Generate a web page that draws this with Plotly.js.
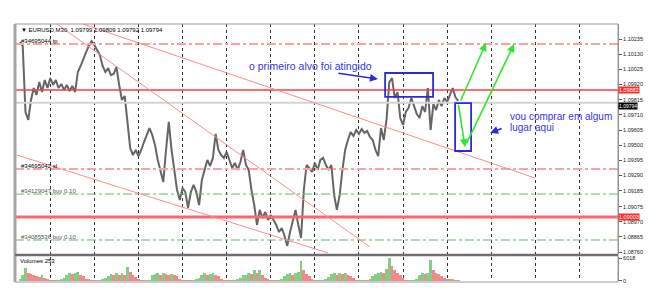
<!DOCTYPE html>
<html><head><meta charset="utf-8">
<script src="https://cdn.plot.ly/plotly-3.0.1.min.js"></script>
<style>html,body{margin:0;padding:0;background:#fff;}#chart{width:669px;height:299px;}</style>
</head><body><div id="chart"></div>
<script>
// ---- data ----
const symbol = 'EURUSD,M30';
const headerPrices = ['1.09799', '1.09809', '1.09792', '1.09794'];
const firstBar = 5;
const closes = [1.10214, 1.10187, 1.09730, 1.09675, 1.09813, 1.09896, 1.09848, 1.09937, 1.09868, 1.09951,
  1.09896, 1.09965, 1.09917, 1.09951, 1.09896, 1.09924, 1.09882, 1.09917, 1.09875, 1.09910,
  1.09868, 1.10007, 1.10048, 1.10104, 1.10145, 1.10187, 1.10221, 1.10193, 1.10159, 1.10124,
  1.10048, 1.10007, 1.10034, 1.09986, 1.09993, 1.10041, 1.09917, 1.09813, 1.09841, 1.09640,
  1.09481, 1.09432, 1.09467, 1.09425, 1.09467, 1.09522, 1.09571, 1.09619, 1.09571, 1.09502,
  1.09398, 1.09329, 1.09245, 1.09467, 1.09661, 1.09467, 1.09342, 1.09190, 1.09121, 1.09204,
  1.09176, 1.09066, 1.09176, 1.09225, 1.09176, 1.09086, 1.09259, 1.09329, 1.09398, 1.09356,
  1.09412, 1.09578, 1.09467, 1.09432, 1.09412, 1.09453, 1.09398, 1.09342, 1.09377, 1.09329,
  1.09384, 1.09467, 1.09363, 1.09329, 1.09190, 1.09086, 1.08948, 1.09052, 1.08996, 1.09038,
  1.08982, 1.09017, 1.08982, 1.08948, 1.08899, 1.08927, 1.08872, 1.08803, 1.08899, 1.08969,
  1.09052, 1.08948, 1.08858, 1.09190, 1.09363, 1.09342, 1.09315, 1.09377, 1.09329, 1.09398,
  1.09412, 1.09363, 1.09329, 1.09363, 1.09155, 1.09052, 1.09155, 1.09329, 1.09467, 1.09536,
  1.09591, 1.09564, 1.09605, 1.09578, 1.09612, 1.09585, 1.09598, 1.09557, 1.09536, 1.09467,
  1.09425, 1.09619, 1.09536, 1.09675, 1.09937, 1.09965, 1.09827, 1.09868, 1.09688, 1.09640,
  1.09730, 1.09758, 1.09827, 1.09771, 1.09716, 1.09688, 1.09771, 1.09730, 1.09896, 1.09605,
  1.09785, 1.09744, 1.09813, 1.09771, 1.09827, 1.09799, 1.09854, 1.09896, 1.09834, 1.09806];
const volumes = [500,1500,3400,2000,1800,1500,1300,1000,1500,800,
  500,300,200,300,200,400,800,1500,2000,1800,
  2200,2500,1700,1200,600,400,300,200,300,200,
  400,800,1200,1800,1500,2000,1700,2200,1500,3600,
  2500,1600,1000,500,300,200,200,300,1500,1800,
  2000,1700,2200,1800,1500,1800,1500,1200,600,300,
  200,300,200,300,400,800,1500,2000,1600,1800,
  2200,1500,1200,600,300,200,200,300,200,400,
  800,1500,1700,2000,1800,3000,2200,2800,1600,800,
  400,200,300,200,300,500,1200,1800,2000,1600,
  2200,2500,5200,3000,1800,1200,600,200,200,300,
  200,500,1000,1800,2000,1600,2200,1800,2000,1500,
  1200,700,300,200,200,300,200,400,1200,1800,
  2000,2400,2000,3200,6018,4000,2800,2200,1600,800,
  300,200,200,300,600,1500,2000,1800,2200,5600,
  3000,2200,1800,1200,800,600,400,500,300,300];
const volumeLabel = 'Volumes 253';
const volumeTicks = [0, 6018];

const tickValues = [1.10235, 1.10130, 1.10025, 1.09920, 1.09815, 1.09710, 1.09605, 1.09500,
  1.09395, 1.09290, 1.09185, 1.09075, 1.08970, 1.08865, 1.08760];

const orderLevels = [1.10200, 1.09335, 1.09162, 1.08844];
const orderLabels = ['#34695044 tp', '#34695042 sl', '#34129047 buy 0.10', '#34085536 buy 0.10'];
const orderKinds = ['stop', 'stop', 'buy', 'buy'];
const redLevels = [1.09882, 1.09003];
const redLabels = ['1.09882', '1.09003'];
const bidPrice = 1.09794;

// trend lines: [bar0, price0, bar1, price1]
const trendLines = [[27.9, 1.10339, 191.9, 1.09273], [18.4, 1.10339, 132.0, 1.08796], [3.9, 1.09432, 116.8, 1.08754]];
// boxes: [bar0, priceTop, bar1, priceBottom]
const boxes = [[137.5, 1.10000, 154.9, 1.09834], [162.9, 1.09792, 168.7, 1.09460]];
// arrows: [tailBar, tailPrice, headBar, headPrice]
const greenArrows = [[164.7, 1.09799, 174.1, 1.10207], [164.0, 1.09792, 166.5, 1.09488], [166.8, 1.09502, 184.3, 1.10200]];
const blueArrows = [[120.0, 1.10000, 134.9, 1.09958], [180.3, 1.09619, 175.6, 1.09585]];
const notes = [
  {text: 'o primeiro alvo foi atingido', bar: 110.6, price: 1.10048, anchor: 'center', size: 10.5},
  {text: 'vou comprar em algum', bar: 182.1, price: 1.09702, anchor: 'left', size: 10},
  {text: 'lugar aqui', bar: 182.1, price: 1.09626, anchor: 'left', size: 10}
];

// ---- build ----
const bars = closes.map((_, k) => firstBar + k);
const volColors = volumes.map((v, k) => (k === 0 || v >= volumes[k - 1]) ? '#86cc86' : '#f38a8a');

const traces = [
  {type: 'scatter', mode: 'lines', x: bars, y: closes, xaxis: 'x', yaxis: 'y',
   line: {color: '#666666', width: 2}, hoverinfo: 'skip'},
  {type: 'bar', x: bars, y: volumes, xaxis: 'x', yaxis: 'y2', width: 1,
   marker: {color: volColors, line: {width: 0}}, hoverinfo: 'skip'}
];

const shapes = [];
const annotations = [];
const XR = [3.2, 222];

orderLevels.forEach((p, k) => {
  const stop = orderKinds[k] === 'stop';
  shapes.push({type: 'line', xref: 'paper', yref: 'y', x0: 0, x1: 1, y0: p, y1: p,
    line: {color: stop ? '#ffa0a0' : '#66b866', width: stop ? 2 : 1, dash: 'dashdot'}});
  annotations.push({xref: 'paper', yref: 'y', x: 0, y: p, xanchor: 'left', yanchor: 'bottom',
    xshift: 4, yshift: -2, text: orderLabels[k], showarrow: false,
    font: {family: 'Liberation Sans', size: 6, color: stop ? '#000' : '#555'}});
});
redLevels.forEach((p, k) => {
  shapes.push({type: 'line', xref: 'paper', yref: 'y', x0: 0, x1: 1, y0: p, y1: p,
    line: {color: k === 0 ? '#ff3b3b' : '#ff6470', width: k === 0 ? 1.6 : 3}});
  annotations.push({xref: 'paper', yref: 'y', x: 1, y: p, xanchor: 'left', yanchor: 'middle',
    xshift: 0, text: redLabels[k], showarrow: false, bgcolor: '#ff2a2a', borderpad: 0,
    font: {family: 'Liberation Sans', size: 5.5, color: '#fff'}});
});
shapes.push({type: 'line', xref: 'paper', yref: 'y', x0: 0, x1: 1, y0: bidPrice, y1: bidPrice,
  line: {color: '#d4d4d4', width: 2}});
annotations.push({xref: 'paper', yref: 'y', x: 1, y: bidPrice, xanchor: 'left', yanchor: 'middle',
  yshift: -3, text: bidPrice.toFixed(5), showarrow: false, bgcolor: '#000', borderpad: 0,
  font: {family: 'Liberation Sans', size: 5, color: '#fff'}});

trendLines.forEach(t => shapes.push({type: 'line', xref: 'x', yref: 'y', x0: t[0], y0: t[1], x1: t[2], y1: t[3],
  line: {color: '#ff8a8a', width: 1}}));
boxes.forEach(b => shapes.push({type: 'rect', xref: 'x', yref: 'y', x0: b[0], y0: b[1], x1: b[2], y1: b[3],
  line: {color: '#2b2bdd', width: 1.8}, fillcolor: 'rgba(0,0,0,0)'}));

greenArrows.forEach(a => annotations.push({xref: 'x', yref: 'y', axref: 'x', ayref: 'y',
  x: a[2], y: a[3], ax: a[0], ay: a[1], text: '', showarrow: true, arrowhead: 2, arrowsize: 1,
  arrowwidth: 1.6, arrowcolor: '#2ee82e'}));
blueArrows.forEach(a => annotations.push({xref: 'x', yref: 'y', axref: 'x', ayref: 'y',
  x: a[2], y: a[3], ax: a[0], ay: a[1], text: '', showarrow: true, arrowhead: 2, arrowsize: 1,
  arrowwidth: 1.6, arrowcolor: '#2b2bdd'}));
notes.forEach(n => annotations.push({xref: 'x', yref: 'y', x: n.bar, y: n.price, xanchor: n.anchor,
  yanchor: 'middle', text: n.text, showarrow: false,
  font: {family: 'Liberation Sans', size: n.size, color: '#3535e8'}}));

annotations.push({xref: 'paper', yref: 'paper', x: 0, y: 1, xanchor: 'left', yanchor: 'top',
  xshift: 4, yshift: -1, showarrow: false,
  text: '\u25BC ' + symbol + '  ' + headerPrices.join(' '),
  font: {family: 'Liberation Sans', size: 6, color: '#000'}});
annotations.push({xref: 'paper', yref: 'paper', x: 0, y: 0.097, xanchor: 'left', yanchor: 'top',
  xshift: 3, yshift: 1, showarrow: false, text: volumeLabel,
  font: {family: 'Liberation Sans', size: 6, color: '#000'}});

// frame
shapes.push({type: 'rect', xref: 'paper', yref: 'paper', x0: 0, x1: 1, y0: 0, y1: 1,
  line: {color: '#9a9a9a', width: 1}});
shapes.push({type: 'line', xref: 'paper', yref: 'paper', x0: 0, x1: 0, y0: 0, y1: 1,
  line: {color: '#a6a6a6', width: 3}});
shapes.push({type: 'line', xref: 'paper', yref: 'paper', x0: 0, x1: 1, y0: 0.1047, y1: 0.1047,
  line: {color: '#6e6e6e', width: 2.5}});

const tickFont = {family: 'Liberation Sans', size: 5.5, color: '#222'};
const layout = {
  width: 669, height: 299, margin: {l: 15, r: 51, t: 24, b: 17},
  paper_bgcolor: '#fff', plot_bgcolor: '#fff', showlegend: false, bargap: 0,
  xaxis: {range: XR, anchor: 'y2', showgrid: true, gridcolor: '#333', griddash: 'dot', gridwidth: 1,
    tick0: 0, dtick: 16, showticklabels: false, ticks: '', zeroline: false, showline: false, fixedrange: true},
  yaxis: {domain: [0.1085, 1], range: [1.08747, 1.10339], side: 'right', anchor: 'x',
    tickvals: tickValues, ticktext: tickValues.map(v => v.toFixed(5)), ticks: 'outside', ticklen: 3,
    tickcolor: '#555', showgrid: false, zeroline: false, showline: true, linecolor: '#888',
    tickfont: tickFont},
  yaxis2: {domain: [0.0039, 0.0969], range: [0, 6400], side: 'right', anchor: 'x',
    tickvals: volumeTicks, ticktext: volumeTicks.map(String), ticks: 'outside', ticklen: 3,
    tickcolor: '#555', showgrid: false, zeroline: false, showline: true, linecolor: '#888',
    tickfont: tickFont},
  shapes: shapes, annotations: annotations
};
Plotly.newPlot('chart', traces, layout, {staticPlot: true, displayModeBar: false});
</script></body></html>
